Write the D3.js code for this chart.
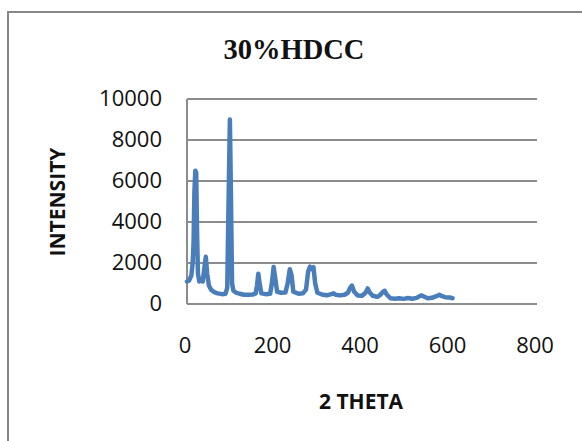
<!DOCTYPE html>
<html>

<head>
    <meta charset="UTF-8">
    <title>30%HDCC</title>
    <style>
        body {
            margin: 0;
            background: #fff;
        }

        .grid line {
            stroke: #8c8c8c;
            stroke-width: 2;
        }

        .tick-label {
            font-family: "Open Sans", sans-serif;
            font-size: 22px;
            fill: #111;
        }

        .axis-title {
            font-family: "Open Sans", sans-serif;
            font-weight: bold;
            font-size: 21px;
            fill: #111;
        }
    </style>
</head>

<body>
    <svg id="chart" width="582" height="441"></svg>

    <script src="https://d3js.org/d3.v7.min.js"></script>
    <script>
        // 2 theta positions and intensities
        const theta = [0, 5, 10, 13, 15, 17, 19, 21, 23, 25, 28, 32, 36, 40, 43, 46, 50, 55, 62, 70,
            80, 88, 92, 95, 98, 100, 103, 106, 112, 120, 130, 140, 150, 157, 160, 163, 166, 170, 180, 190,
            194, 198, 202, 206, 215, 225, 230, 235, 239, 243, 255, 265, 272, 277, 281, 285, 289, 293, 298, 310,
            320, 330, 335, 340, 350, 360, 368, 373, 377, 382, 390, 400, 408, 413, 418, 425, 435, 442, 448, 452,
            457, 465, 475, 485, 495, 505, 515, 525, 535, 540, 550, 560, 570, 577, 583, 590, 600, 607];
        const intensity = [1100, 1150, 1400, 2000, 3000, 5500, 6500, 6400, 3500, 1500, 1100, 1200, 1100, 1800, 2300, 1500, 900, 700, 580, 520,
            480, 500, 800, 5000, 9000, 6000, 1000, 650, 560, 500, 450, 450, 460, 520, 900, 1480, 1000, 520, 480, 500,
            1000, 1800, 1200, 600, 550, 560, 1000, 1700, 1400, 600, 500, 520, 700, 1600, 1820, 1700, 1800, 1000, 550, 450,
            430, 480, 520, 450, 420, 450, 550, 800, 900, 600, 420, 400, 550, 760, 550, 400, 350, 450, 600, 640,
            450, 280, 260, 280, 250, 290, 260, 300, 420, 380, 280, 300, 380, 450, 380, 330, 320, 280];

        const xTicks = [0, 200, 400, 600, 800];
        const yTicks = [0, 2000, 4000, 6000, 8000, 10000];

        const svg = d3.select("#chart");

        // outer chart frame (runs past the right and bottom edges)
        svg.append("rect")
            .attr("x", 8)
            .attr("y", 12)
            .attr("width", 600)
            .attr("height", 460)
            .attr("fill", "none")
            .attr("stroke", "#878787")
            .attr("stroke-width", 2);

        // plot area
        const plot = { left: 187, right: 537, top: 99, bottom: 304 };

        const xScale = d3.scaleLinear()
            .domain([0, 800])
            .range([plot.left, plot.right]);

        const yScale = d3.scaleLinear()
            .domain([0, 10000])
            .range([plot.bottom, plot.top]);

        // horizontal gridlines
        svg.append("g")
            .attr("class", "grid")
            .selectAll("line")
            .data(yTicks)
            .enter()
            .append("line")
            .attr("x1", plot.left)
            .attr("x2", plot.right)
            .attr("y1", (d) => yScale(d))
            .attr("y2", (d) => yScale(d));

        // left axis line
        svg.append("line")
            .attr("x1", plot.left)
            .attr("x2", plot.left)
            .attr("y1", plot.top)
            .attr("y2", plot.bottom)
            .attr("stroke", "#8c8c8c")
            .attr("stroke-width", 2);

        // y tick labels
        svg.append("g")
            .selectAll("text")
            .data(yTicks)
            .enter()
            .append("text")
            .attr("class", "tick-label")
            .attr("x", 162)
            .attr("y", (d) => yScale(d) + 1)
            .attr("text-anchor", "end")
            .attr("dominant-baseline", "middle")
            .text((d) => d);

        // x tick labels
        svg.append("g")
            .selectAll("text")
            .data(xTicks)
            .enter()
            .append("text")
            .attr("class", "tick-label")
            .attr("x", (d) => xScale(d) - 2)
            .attr("y", 347)
            .attr("text-anchor", "middle")
            .attr("dominant-baseline", "middle")
            .text((d) => d);

        // data line
        const line = d3.line()
            .x((d, i) => xScale(theta[i]))
            .y((d) => yScale(d));

        svg.append("path")
            .datum(intensity)
            .attr("fill", "none")
            .attr("stroke", "#4a7ebb")
            .attr("stroke-width", 4.5)
            .attr("stroke-linejoin", "round")
            .attr("stroke-linecap", "round")
            .attr("d", line);

        // titles
        svg.append("text")
            .attr("x", 294)
            .attr("y", 59)
            .attr("text-anchor", "middle")
            .attr("font-family", "'Liberation Serif', serif")
            .attr("font-weight", "bold")
            .attr("font-size", 28.5)
            .attr("fill", "#111")
            .text("30%HDCC");

        svg.append("text")
            .attr("class", "axis-title")
            .attr("x", 361)
            .attr("y", 403)
            .attr("text-anchor", "middle")
            .attr("dominant-baseline", "middle")
            .text("2 THETA");

        svg.append("text")
            .attr("class", "axis-title")
            .attr("transform", "translate(59, 202) rotate(-90)")
            .attr("text-anchor", "middle")
            .attr("dominant-baseline", "middle")
            .text("INTENSITY");
    </script>
</body>

</html>
